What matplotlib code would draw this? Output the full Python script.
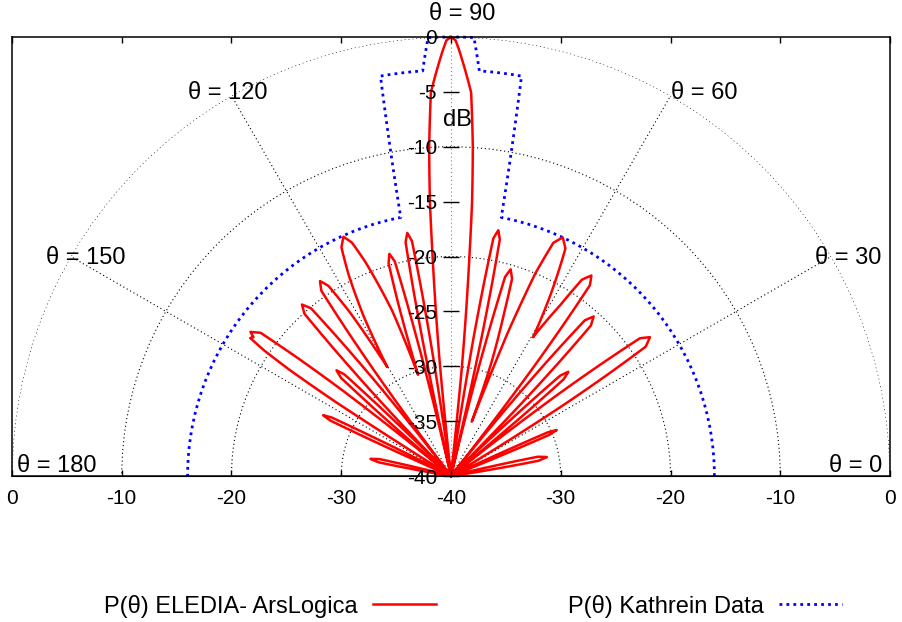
import numpy as np
import matplotlib
matplotlib.use('Agg')
import matplotlib.pyplot as plt

plt.rcParams['font.family'] = ['Liberation Sans', 'DejaVu Sans']
plt.rcParams['font.size'] = 15
plt.rcParams['path.simplify'] = False  # keep every sample of the narrow lobes

# P(theta) ELEDIA- ArsLogica (theta in deg, level in dB)
# one row per lobe, from theta = 0 to theta = 180
eledia_theta = [0,
    6.2, 8.2, 9.15, 9.9, 11.2, 12.5, 13.25, 14.2, 16.2,
    20.5, 21.7, 22.27, 22.72, 23.5, 24.28, 24.73, 25.3, 26.5,
    31.0, 32.25, 32.95, 33.6, 34.9, 36.1, 36.7, 37.35, 38.5,
    38.7, 39.63, 40.15, 40.64, 41.6, 42.6, 43.1, 43.64, 44.6,
    44.8, 45.89, 46.5, 47.08, 48.2, 49.32, 49.9, 50.51, 51.6,
    51.8, 52.82, 53.4, 53.94, 55.0, 56.3, 57.4, 59.4,
    61.3, 63.3, 64.9, 66.3, 67.4, 68.4, 69.1,
    70.4, 72.0, 72.8, 73.9, 74.8, 75.25, 75.74, 76.6,
    76.8, 77.54, 77.95, 78.34, 79.1, 79.89, 80.3, 80.73, 81.5,
    83.8, 84.3, 85.2, 85.6, 86.2, 87.0, 88.9, 89.4, 90.0, 90.6, 91.1, 93.0, 93.8, 94.4, 94.8, 95.7, 96.2,
    97.9, 98.64, 99.05, 99.44, 100.2, 100.99, 101.4, 101.83, 102.6,
    103.0, 103.8, 104.25, 104.68, 105.5, 106.35, 107.0, 108.0,
    109.6, 111.8, 113.0, 114.2, 115.6, 117.0, 118.7, 120.3,
    121.7, 122.8, 123.9, 124.99, 125.55, 126.14, 127.2,
    127.5, 128.62, 129.25, 129.85, 131.0, 132.09, 132.65, 133.24, 134.3,
    134.5, 135.4, 135.9, 136.38, 137.3, 138.26, 138.75, 139.27, 140.2,
    140.5, 141.72, 142.4, 143.05, 144.3, 144.9, 145.5, 146.1, 146.7, 147.3, 148.0,
    151.8, 152.92, 153.45, 153.87, 154.6, 155.33, 155.75, 156.28, 157.4,
    163.0, 165.0, 165.95, 166.7, 168.0, 169.3, 170.05, 171.0, 173.0,
    180]
eledia_db = [-40,
    -40, -39.5, -36.1, -31.9, -31.1, -31.9, -36.1, -39.5, -40,
    -40, -39.5, -34.5, -30.3, -29.5, -30.3, -34.5, -39.5, -40,
    -40, -27.9, -22.9, -18.7, -17.9, -18.7, -22.9, -27.9, -40,
    -40, -35.7, -30.7, -26.5, -25.7, -26.5, -30.7, -35.7, -40,
    -40, -30.5, -25.5, -21.3, -20.5, -21.3, -25.5, -30.5, -40,
    -40, -27.7, -22.7, -18.5, -17.7, -18.5, -21.5, -25.3,
    -21.0, -16.8, -16.0, -16.8, -20.0, -26.0, -34.7,
    -29.0, -24.2, -21.2, -20.4, -21.2, -25.4, -30.4, -40,
    -40, -27.2, -22.2, -18.0, -17.2, -18.0, -22.2, -27.2, -40,
    -40, -30, -20, -15, -10, -5, -1.2, -0.3, 0, -0.3, -1.2, -5, -10, -15, -20, -30, -40,
    -40, -27.5, -22.5, -18.3, -17.5, -18.3, -22.5, -27.5, -40,
    -40, -29.0, -24.0, -19.8, -19.0, -19.8, -23.5, -30.3,
    -24.0, -19.0, -16.9, -16.1, -16.9, -19.5, -23.5, -28.5,
    -22.5, -19.4, -18.6, -19.4, -23.6, -28.6, -40,
    -40, -29.3, -24.3, -20.1, -19.3, -20.1, -24.3, -29.3, -40,
    -40, -35.8, -30.8, -26.6, -25.8, -26.6, -30.8, -35.8, -40,
    -40, -27.5, -22.5, -18.3, -17.5, -18.0, -17.8, -19.5, -22.5, -27.5, -40,
    -40, -37.1, -32.1, -27.9, -27.1, -27.9, -32.1, -37.1, -40,
    -40, -39.7, -37.5, -33.3, -32.5, -33.3, -37.5, -39.7, -40,
    -40]

# P(theta) Kathrein Data (mask)
kathrein_theta = [0, 79, 80, 86, 87, 93, 94, 100, 101, 180]
kathrein_db = [-16, -16, -3, -3, 0, 0, -3, -3, -16, -16]

ring_db = [-30, -20, -10, 0]
spoke_deg = [30, 60, 90, 120, 150]
x_ticks = [-40, -30, -20, -10, 0, 10, 20, 30, 40]
db_ticks = [-40, -35, -30, -25, -20, -15, -10, -5, 0]
angle_text = ['θ = 0', 'θ = 30', 'θ = 60', 'θ = 90', 'θ = 120', 'θ = 150', 'θ = 180']
angle_text_xy = [(36.9, 0.9), (36.2, 19.9), (23.1, 34.9), (1.0, 42.1),
                 (-20.3, 34.9), (-33.3, 19.9), (-35.9, 0.9)]
label_size = 17

fig = plt.figure(figsize=(9.03, 6.22), dpi=100)
rect = [12 / 903, 146 / 622, 878 / 903, 439 / 622]
# the half disc sits in the middle of a square polar axes
polar_rect = [12 / 903, (622 - 695.5) / 622, 878 / 903, 878 / 622]

# polar part: grid and curves
axp = fig.add_axes(polar_rect, projection='polar')
axp.set_thetamin(0)
axp.set_thetamax(180)
axp.set_rlim(-40, 0)
axp.set_rticks(ring_db)
axp.set_yticklabels([])
axp.set_thetagrids(spoke_deg, labels=[''] * len(spoke_deg))
axp.grid(True, color='black', linestyle=(0, (1, 2.5)), linewidth=0.8)
axp.xaxis.get_gridlines()[2].set_color('#888888')
for gl in axp.yaxis.get_gridlines():
    gl.set_clip_on(False)
for sp in axp.spines.values():
    sp.set_visible(False)
axp.patch.set_visible(False)
axp.tick_params(length=0)

mask_line, = axp.plot(np.radians(kathrein_theta), kathrein_db, color='blue', lw=2.0,
                      ls=(0, (1, 1.5)), clip_on=False)
pat_line, = axp.plot(np.radians(eledia_theta), eledia_db, color='red', lw=1.8,
                     clip_on=False)
# follow arcs / spirals in polar space between the samples
for ln in (mask_line, pat_line):
    ln.get_path()._interpolation_steps = 40

# box with the bottom scale
axb = fig.add_axes(rect)
axb.patch.set_visible(False)
axb.set_xlim(-40, 40)
axb.set_ylim(0, 40)
axb.set_xticks(x_ticks)
axb.set_xticklabels([str(abs(v) - 40) for v in x_ticks])
axb.set_yticks([])
axb.tick_params(axis='x', direction='in', length=4.5, width=1, top=True, pad=9)
for sp in axb.spines.values():
    sp.set_linewidth(1.1)
for txt, (x, y) in zip(angle_text, angle_text_xy):
    axb.text(x, y, txt, ha='center', va='center', fontsize=label_size, clip_on=False)

# radial dB axis in the middle
axc = fig.add_axes(rect)
axc.patch.set_visible(False)
axc.set_xlim(-40, 40)
axc.set_ylim(-40, 0)
for name in ['top', 'right', 'bottom']:
    axc.spines[name].set_visible(False)
axc.spines['left'].set_position(('data', 0))
axc.spines['left'].set_color('none')
axc.set_xticks([])
axc.set_yticks(db_ticks)
axc.set_yticklabels([str(v) for v in db_ticks])
axc.tick_params(axis='y', direction='inout', length=12, width=1, pad=4)
axc.text(0.55, -7.6, 'dB', ha='center', va='center', fontsize=label_size)

handles = [plt.Line2D([], [], color='red', lw=1.8),
           plt.Line2D([], [], color='blue', lw=2.0, ls=(0, (1, 1.5)))]
fig.legend(handles, ['P(θ) ELEDIA- ArsLogica', 'P(θ) Kathrein Data'],
           ncol=2, markerfirst=False, frameon=False, loc='center',
           bbox_to_anchor=(473 / 903, 16 / 622), fontsize=label_size,
           handlelength=2.67, handletextpad=0.64, columnspacing=5.6)

plt.savefig('out.png', dpi=100)
plt.close('all')
